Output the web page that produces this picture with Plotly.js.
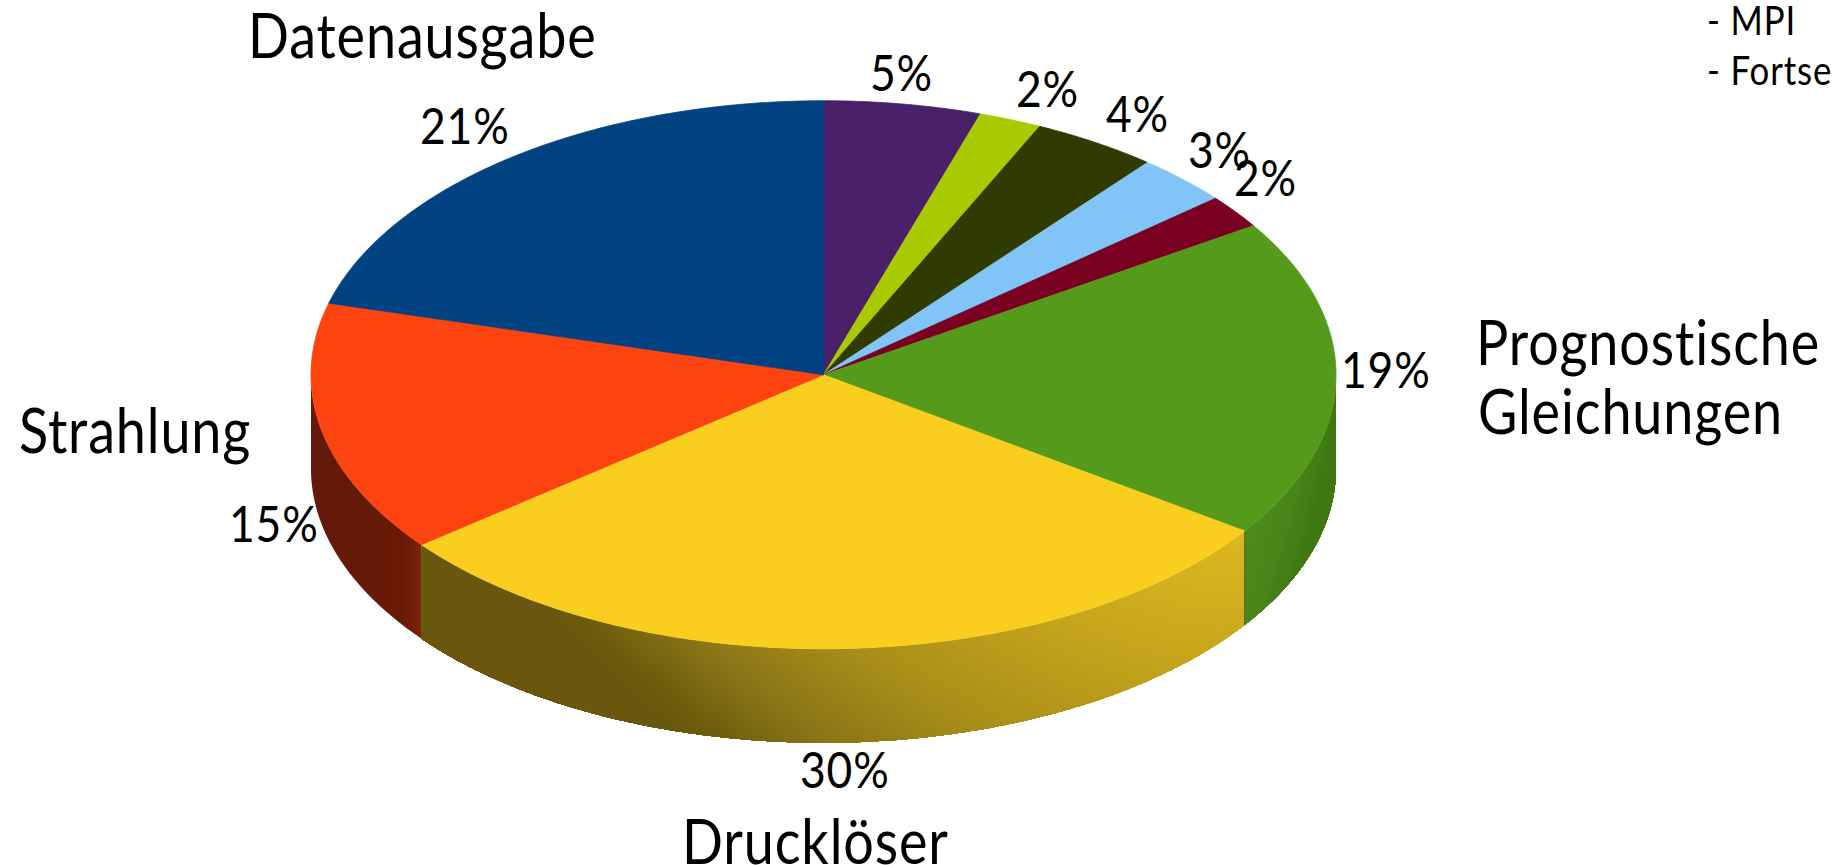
<!DOCTYPE html>
<html>
<head>
<meta charset="utf-8">
<script src="https://cdn.plot.ly/plotly-3.0.1.min.js"></script>
<style>
html,body{margin:0;padding:0;background:#fff;overflow:hidden}
/* Condensed setting for every label */
.annotation-text{
  letter-spacing:1px;
  font-variant-ligatures:none;
  transform-box:fill-box;
  transform-origin:center;
  transform:scaleX(0.87);
}
</style>
</head>
<body>
<div id="chart" style="width:1833px;height:865px"></div>
<script>
// Share of runtime per model component, clockwise from twelve o'clock
const shares = [5, 2, 4, 3, 2, 19, 30, 15, 21];
const sliceColors = ['#4a2068', '#a9c900', '#2f3b00', '#80c4f8', '#7a0022', '#569a1b', '#f9ce1e', '#fc4310', '#014282'];
const shareLabelX = [901, 1047, 1137, 1219, 1265, 1386, 845, 274, 465];
const shareLabelY = [71, 87, 112, 148, 176, 368, 768, 522, 124];

const headings = ['Datenausgabe', 'Prognostische', 'Gleichungen', 'Strahlung', 'Drucklöser'];
const headingX = [422, 1648, 1630, 135, 815];
const headingY = [34, 341, 410, 429, 840];
const notes = ['- MPI', '- Fortse'];
const noteX = [1751, 1769];
const noteY = [20, 70];

// Tilted disc geometry, in page units
const cx = 823.5, cy = 374.75, rx = 512.5, ry = 274, depth = 94;

const FONT = 'Lato, "Noto Sans", sans-serif';

function rim(deg, drop) {
  const t = deg * Math.PI / 180;
  return [cx + rx * Math.sin(t), cy - ry * Math.cos(t) + drop];
}
function arc(from, to, drop) {
  const pts = [], n = Math.max(2, Math.ceil(Math.abs(to - from) * 2));
  for (let i = 0; i <= n; i++) pts.push(rim(from + (to - from) * i / n, drop));
  return pts;
}

const total = shares.reduce((a, b) => a + b, 0);
const edges = [0];
shares.forEach(v => edges.push(edges[edges.length - 1] + v / total * 360));

// Wall lighting per visible slice. The ramp slides along x with depth,
// which tilts the light bands across the wall.
const wallShading = {
  5: {start: 1248, stop: 1340, slide: -40,
      ramp: [[0, '#4e8a1c'], [0.55, '#488419'], [1, '#3f7812']]},
  6: {start: 424, stop: 1248, slide: 130,
      ramp: [[0, '#68570c'], [0.14, '#68570c'], [0.2, '#6e5c0d'], [0.26, '#7b6811'], [0.33, '#8a7416'], [0.51, '#a68c18'], [0.77, '#c6a51c'], [1, '#dcb820']]},
  7: {start: 311, stop: 424, slide: 0,
      ramp: [[0, '#64180a'], [0.8, '#681a06'], [1, '#80240a']]}
};
const WALL_ROWS = 30;
const traces = [];

function polygon(pts, extra) {
  const base = {
    type: 'scatter', mode: 'lines', fill: 'toself',
    x: pts.map(p => p[0]), y: pts.map(p => p[1]),
    hoverinfo: 'skip', showlegend: false
  };
  const merged = Object.assign(base, extra);
  merged.line = Object.assign({width: 0, simplify: false}, extra.line);
  return merged;
}

// Side walls first, only the front half of the disc shows.
// Each row is painted from its own depth down to the base, so rows overlap without seams.
[7, 6, 5].forEach(i => {
  const from = Math.max(edges[i], 90), to = Math.min(edges[i + 1], 270);
  const shade = wallShading[i];
  const rows = shade.slide ? WALL_ROWS : 1;
  for (let r = 0; r < rows; r++) {
    const h = r / rows;
    const top = arc(from, to, depth * h), bottom = arc(to, from, depth);
    const outline = top.concat(bottom);
    outline.push(top[0]);
    const shift = shade.slide * (h + 0.5 / rows);
    traces.push(polygon(outline, {
      fillgradient: {
        type: 'horizontal',
        start: shade.start + shift, stop: shade.stop + shift,
        colorscale: shade.ramp
      }
    }));
  }
});

// Seam between the green and yellow walls
const seamTop = rim(edges[6], 0), seamBottom = rim(edges[6], depth);
traces.push({
  type: 'scatter', mode: 'lines',
  x: [seamTop[0], seamBottom[0]], y: [seamTop[1], seamBottom[1]],
  line: {color: '#5d6c10', width: 1}, hoverinfo: 'skip', showlegend: false
});

// Top face, outlined in its own colour to close the gaps between slices
shares.forEach((v, i) => {
  const pts = [[cx, cy]].concat(arc(edges[i], edges[i + 1], 0));
  pts.push([cx, cy]);
  traces.push(polygon(pts, {fillcolor: sliceColors[i], line: {width: 0.8, color: sliceColors[i]}}));
});

const annotations = [];
function addText(text, x, y, size) {
  annotations.push({
    text, x, y, xref: 'x', yref: 'y', showarrow: false,
    xanchor: 'center', yanchor: 'middle', align: 'center',
    font: {family: FONT, size, color: '#000', weight: 400}
  });
}
shares.forEach((v, i) => addText(v + '%', shareLabelX[i], shareLabelY[i], 51));
headings.forEach((h, i) => addText(h, headingX[i], headingY[i], 62));
notes.forEach((n, i) => addText(n, noteX[i], noteY[i], 40));

Plotly.newPlot('chart', traces, {
  width: 1833, height: 865,
  margin: {l: 0, r: 0, t: 0, b: 0},
  paper_bgcolor: '#fff', plot_bgcolor: '#fff',
  showlegend: false,
  xaxis: {range: [0, 1833], visible: false, fixedrange: true},
  yaxis: {range: [865, 0], visible: false, fixedrange: true},
  annotations
}, {displayModeBar: false, staticPlot: true});
</script>
</body>
</html>
